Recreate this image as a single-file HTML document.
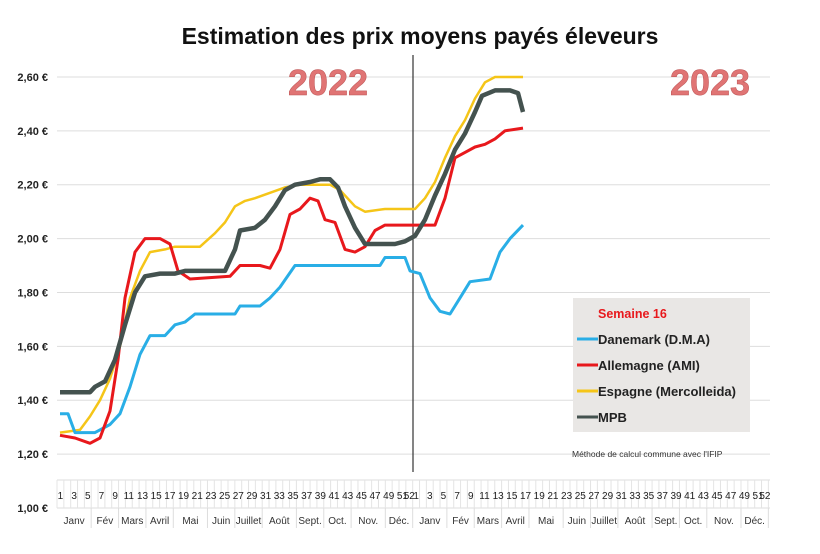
<!DOCTYPE html><html><head><meta charset="utf-8"><style>
body{margin:0;background:#fff;width:820px;height:549px;overflow:hidden;font-family:"Liberation Sans",sans-serif}
</style></head><body>
<svg id="s" width="820" height="549" xmlns="http://www.w3.org/2000/svg" font-family="Liberation Sans, sans-serif"></svg>
<script>
const s=document.getElementById('s');let h='';
const Y=v=>508-(v-1)*269.4;
h+='<text x="420" y="44" text-anchor="middle" font-size="23" font-weight="bold" fill="#111">Estimation des prix moyens payés éleveurs</text>';
for(let i=0;i<9;i++){const v=1+i*0.2,y=Y(v);if(i>0)h+=`<line x1="57" x2="770" y1="${y}" y2="${y}" stroke="#ddd"/>`;
h+=`<text x="48" y="${y+4}" text-anchor="end" font-size="11" font-weight="bold" fill="#222">${v.toFixed(2).replace('.',',')} €</text>`;}
const w=6.84;
h+=`<line x1="57" x2="770" y1="480" y2="480" stroke="#ddd"/><line x1="57" x2="770" y1="508" y2="508" stroke="#ddd"/>`;
for(let k=0;k<=104;k++){const x=57+w*k;h+=`<line x1="${x}" x2="${x}" y1="480" y2="508" stroke="#e4e4e4"/>`;}
for(let k=0;k<104;k++){const wk=k%52+1;if(wk%2==1||wk==52){h+=`<text x="${57+w*(k+0.5)}" y="499" text-anchor="middle" font-size="10" fill="#222">${wk}</text>`;}}
const m=[['Janv',0,5],['Fév',5,9],['Mars',9,13],['Avril',13,17],['Mai',17,22],['Juin',22,26],['Juillet',26,30],['Août',30,35],['Sept.',35,39],['Oct.',39,43],['Nov.',43,48],['Déc.',48,52]];
for(let yr=0;yr<2;yr++)for(const [n,a,b] of m){const x1=57+w*(a+52*yr),x2=57+w*(b+52*yr);h+=`<line x1="${x2}" x2="${x2}" y1="508" y2="528" stroke="#ddd"/><text x="${(x1+x2)/2}" y="524" text-anchor="middle" font-size="10" fill="#333">${n}</text>`;}
h+='<line x1="413" x2="413" y1="55" y2="472" stroke="#333" stroke-width="1.2"/>';
h+='<text x="328" y="95" text-anchor="middle" font-size="36" font-weight="bold" fill="#e07474" stroke="#b55" stroke-width="0.5">2022</text>';
h+='<text x="710" y="95" text-anchor="middle" font-size="36" font-weight="bold" fill="#e07474" stroke="#b55" stroke-width="0.5">2023</text>';
const S={
dk:[[60,1.35],[68,1.35],[75,1.28],[95,1.28],[110,1.31],[120,1.35],[130,1.45],[140,1.57],[150,1.64],[165,1.64],[175,1.68],[185,1.69],[195,1.72],[235,1.72],[240,1.75],[260,1.75],[270,1.78],[280,1.82],[295,1.90],[380,1.90],[385,1.93],[405,1.93],[410,1.88],[420,1.87],[430,1.78],[440,1.73],[450,1.72],[460,1.78],[470,1.84],[490,1.85],[500,1.95],[510,2.0],[523,2.05]],
de:[[60,1.27],[75,1.26],[90,1.24],[100,1.26],[110,1.36],[118,1.55],[125,1.78],[135,1.95],[145,2.0],[160,2.0],[170,1.98],[178,1.88],[190,1.85],[230,1.86],[240,1.90],[260,1.90],[270,1.89],[280,1.96],[290,2.09],[300,2.11],[310,2.15],[318,2.14],[325,2.07],[335,2.06],[345,1.96],[355,1.95],[365,1.97],[375,2.03],[385,2.05],[435,2.05],[445,2.15],[455,2.30],[465,2.32],[475,2.34],[485,2.35],[495,2.37],[505,2.40],[523,2.41]],
es:[[60,1.28],[80,1.29],[90,1.34],[100,1.40],[110,1.48],[120,1.60],[130,1.78],[140,1.88],[150,1.95],[165,1.96],[175,1.97],[200,1.97],[215,2.02],[225,2.06],[235,2.12],[245,2.14],[255,2.15],[270,2.17],[285,2.19],[300,2.20],[330,2.20],[340,2.18],[355,2.12],[365,2.10],[385,2.11],[415,2.11],[425,2.15],[435,2.21],[445,2.30],[455,2.38],[465,2.44],[475,2.52],[485,2.58],[495,2.60],[523,2.60]],
mpb:[[60,1.43],[90,1.43],[95,1.45],[105,1.47],[115,1.55],[125,1.68],[135,1.80],[145,1.86],[160,1.87],[175,1.87],[185,1.88],[225,1.88],[235,1.96],[240,2.03],[255,2.04],[265,2.07],[275,2.12],[285,2.18],[295,2.20],[310,2.21],[320,2.22],[330,2.22],[338,2.19],[345,2.12],[355,2.04],[365,1.98],[395,1.98],[405,1.99],[415,2.01],[425,2.07],[435,2.16],[445,2.24],[455,2.33],[465,2.39],[475,2.47],[482,2.53],[495,2.55],[510,2.55],[518,2.54],[523,2.47]]};
const P=a=>a.map(p=>p[0]+','+Y(p[1]).toFixed(1)).join(' ');
h+=`<polyline points="${P(S.es)}" fill="none" stroke="#f5c518" stroke-width="2.5" stroke-linejoin="round"/>`;
h+=`<polyline points="${P(S.dk)}" fill="none" stroke="#29aee6" stroke-width="3" stroke-linejoin="round"/>`;
h+=`<polyline points="${P(S.de)}" fill="none" stroke="#e8181c" stroke-width="3" stroke-linejoin="round"/>`;
h+=`<polyline points="${P(S.mpb)}" fill="none" stroke="#44524f" stroke-width="4.5" stroke-linejoin="round"/>`;
h+='<rect x="573" y="298" width="177" height="134" fill="#e9e7e5"/>';
h+='<text x="598" y="318" font-size="12.5" font-weight="bold" fill="#e8181c">Semaine 16</text>';
const L=[['Danemark (D.M.A)','#29aee6'],['Allemagne (AMI)','#e8181c'],['Espagne (Mercolleida)','#f5c518'],['MPB','#44524f']];
L.forEach((l,i)=>{const y=343+i*26;h+=`<line x1="577" x2="598" y1="${y-4}" y2="${y-4}" stroke="${l[1]}" stroke-width="3"/><text x="598" y="${y+1}" font-size="13" font-weight="bold" fill="#222">${l[0]}</text>`;});
h+='<text x="572" y="457" font-size="8.5" fill="#333">Méthode de calcul commune avec l\'IFIP</text>';
s.innerHTML=h;
</script></body></html>
